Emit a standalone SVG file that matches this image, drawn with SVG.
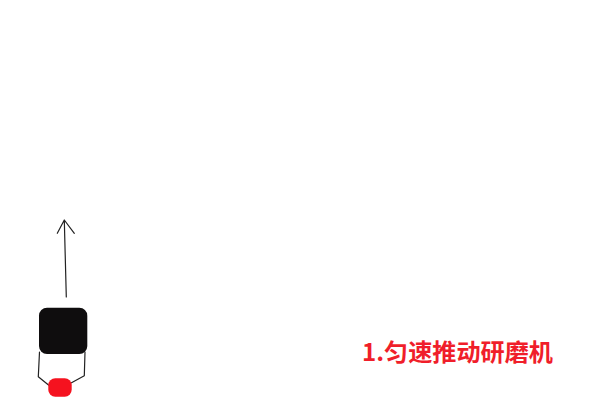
<svg xmlns="http://www.w3.org/2000/svg" width="600" height="400" viewBox="0 0 600 400">
<style>
.ln{fill:none;stroke:#222;stroke-width:1.2;stroke-linecap:round;stroke-linejoin:round}
.lbl{font-family:"Noto Sans CJK SC","Noto Sans",sans-serif;font-weight:bold;font-size:24px;fill:#f01e2a}
</style>
<rect width="600" height="400" fill="#fff"/>
<g id="connectors">
<path class="ln" d="M66.3,297 L64.3,220 M57.3,233.3 L64.3,220 L74.3,233.3"/>
<path class="ln" d="M39.5,352 L38.3,376.7 L48.5,385"/>
<path class="ln" d="M85,352 L84.3,375.7 L71.5,382.7"/>
</g>
<g id="block">
<rect x="39" y="307.7" width="48.3" height="46.3" rx="8" fill="#0f0d0e"/>
</g>
<g id="weight">
<rect x="48.3" y="378.3" width="23.4" height="18.4" rx="7" fill="#f5121f"/>
</g>
<g id="label">
<text class="lbl" x="362" y="350" dominant-baseline="central" textLength="191" lengthAdjust="spacingAndGlyphs">1.匀速推动研磨机</text>
</g>
</svg>
